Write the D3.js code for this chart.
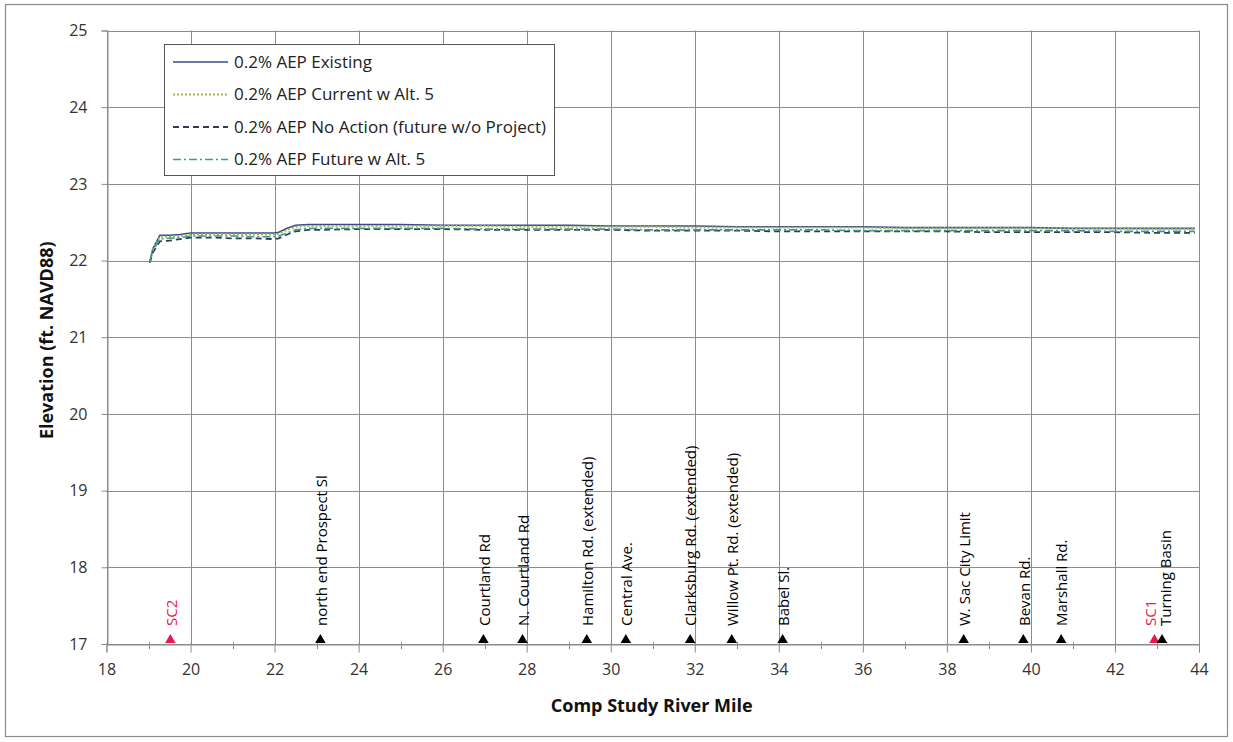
<!DOCTYPE html>
<html><head><meta charset="utf-8">
<script src="https://cdn.jsdelivr.net/npm/d3@7"></script>
<style>
html,body{margin:0;padding:0;background:#fff;}
svg{display:block;font-family:"Open Sans",Lato,sans-serif;}
</style></head>
<body>
<svg id="chart" width="1233" height="742"></svg>
<script>
// ---------- DATA ----------
const riverMile = [19.03, 19.1, 19.27, 19.5, 19.75, 20.0, 20.5, 21.0, 21.5, 22.0, 22.1, 22.3, 22.5, 22.8, 23.0, 24, 25, 26, 27, 28, 29, 30, 31, 32, 33, 34, 35, 36, 37, 38, 39, 40, 41, 42, 43, 43.9];
const existing = [21.98, 22.15, 22.33, 22.33, 22.34, 22.36, 22.36, 22.36, 22.36, 22.36, 22.37, 22.42, 22.46, 22.47, 22.47, 22.47, 22.47, 22.46, 22.46, 22.46, 22.46, 22.45, 22.45, 22.45, 22.44, 22.44, 22.44, 22.44, 22.43, 22.43, 22.43, 22.43, 22.42, 22.42, 22.42, 22.42];
const currentAlt5 = [21.99, 22.14, 22.31, 22.31, 22.32, 22.34, 22.34, 22.34, 22.34, 22.34, 22.35, 22.40, 22.44, 22.45, 22.45, 22.45, 22.45, 22.45, 22.45, 22.44, 22.44, 22.44, 22.44, 22.43, 22.43, 22.43, 22.43, 22.43, 22.42, 22.42, 22.42, 22.42, 22.42, 22.42, 22.41, 22.41];
const noAction = [21.97, 22.10, 22.25, 22.26, 22.28, 22.30, 22.30, 22.29, 22.29, 22.28, 22.29, 22.34, 22.38, 22.40, 22.40, 22.41, 22.41, 22.41, 22.40, 22.40, 22.40, 22.40, 22.39, 22.39, 22.39, 22.38, 22.38, 22.38, 22.38, 22.38, 22.37, 22.37, 22.37, 22.37, 22.36, 22.36];
const futureAlt5 = [21.98, 22.12, 22.28, 22.29, 22.30, 22.32, 22.32, 22.32, 22.31, 22.31, 22.32, 22.36, 22.40, 22.42, 22.42, 22.42, 22.42, 22.42, 22.41, 22.41, 22.41, 22.41, 22.40, 22.40, 22.40, 22.40, 22.40, 22.39, 22.39, 22.39, 22.39, 22.39, 22.39, 22.38, 22.38, 22.38];
const seriesNames = ["0.2% AEP Existing", "0.2% AEP Current w Alt. 5", "0.2% AEP No Action (future w/o Project)", "0.2% AEP Future w Alt. 5"];

const landmarkNames = ["SC2", "north end Prospect Sl", "Courtland Rd", "N. Courtland Rd", "Hamilton Rd. (extended)", "Central Ave.", "Clarksburg Rd. (extended)", "Willow Pt. Rd. (extended)", "Babel Sl.", "W. Sac City Limit", "Bevan Rd.", "Marshall Rd.", "SC1", "Turning Basin"];
const landmarkMiles = [19.52, 23.09, 26.97, 27.9, 29.43, 30.36, 31.89, 32.88, 34.09, 38.4, 39.82, 40.72, 42.94, 43.12];
const landmarkIsSC = [true, false, false, false, false, false, false, false, false, false, false, false, true, false];

const xTicks = [18, 20, 22, 24, 26, 28, 30, 32, 34, 36, 38, 40, 42, 44];
const yTicks = [17, 18, 19, 20, 21, 22, 23, 24, 25];

// ---------- LAYOUT ----------
const svg = d3.select("#chart");
const L = 106.5, R = 1199, T = 30.5, B = 644;
const x = d3.scaleLinear().domain([18, 44]).range([L, R]);
const y = d3.scaleLinear().domain([17, 25]).range([B, T]);

svg.append("rect").attr("x", 5.5).attr("y", 4.5).attr("width", 1222).attr("height", 732)
  .attr("fill", "#fff").attr("stroke", "#8a8a8a").attr("stroke-width", 1.2);

const gridColor = "#8c8c8c";
svg.append("g").selectAll("line").data(yTicks).join("line")
  .attr("x1", L).attr("x2", R).attr("y1", d => Math.round(y(d)) + 0.5).attr("y2", d => Math.round(y(d)) + 0.5)
  .attr("stroke", gridColor).attr("stroke-width", 1);
svg.append("g").selectAll("line").data(xTicks).join("line")
  .attr("x1", d => Math.round(x(d)) + 0.5).attr("x2", d => Math.round(x(d)) + 0.5).attr("y1", T).attr("y2", B)
  .attr("stroke", gridColor).attr("stroke-width", 1);

// x axis
const xAxis = d3.axisBottom(x).tickValues(xTicks).tickSize(8).tickPadding(11).tickFormat(d3.format("d"));
const gx = svg.append("g").attr("transform", `translate(0,${Math.round(B) + 0.5})`).call(xAxis);
gx.select(".domain").attr("stroke", gridColor);
gx.selectAll(".tick line").attr("stroke", gridColor).attr("y1", -2);
gx.selectAll(".tick text").attr("font-size", 16).attr("fill", "#333").attr("font-family", "Open Sans");
const minorTicks = d3.range(19, 44, 2);
svg.append("g").selectAll("line").data(minorTicks).join("line")
  .attr("x1", d => Math.round(x(d)) + 0.5).attr("x2", d => Math.round(x(d)) + 0.5)
  .attr("y1", B - 2).attr("y2", B + 5).attr("stroke", gridColor);

// y axis
const yAxis = d3.axisLeft(y).tickValues(yTicks).tickSize(6).tickPadding(14).tickFormat(d3.format("d"));
const gy = svg.append("g").attr("transform", `translate(${Math.round(L) + 0.5},0)`).call(yAxis);
gy.select(".domain").attr("stroke", gridColor);
gy.selectAll(".tick line").attr("stroke", gridColor);
gy.selectAll(".tick text").attr("font-size", 16).attr("fill", "#333").attr("font-family", "Open Sans");

// axis titles
svg.append("text").attr("x", (L + R) / 2 - 1).attr("y", 712).attr("text-anchor", "middle")
  .attr("font-weight", "bold").attr("font-size", 18).attr("fill", "#111").text("Comp Study River Mile");
svg.append("text").attr("transform", `translate(53,${(T + B) / 2 + 3}) rotate(-90)`).attr("text-anchor", "middle")
  .attr("font-weight", "bold").attr("font-size", 18).attr("fill", "#111").text("Elevation (ft. NAVD88)");

// ---------- LINES ----------
const series = [
  {name: seriesNames[0], values: existing, color: "#3c4a8c", dash: null, width: 1.6},
  {name: seriesNames[1], values: currentAlt5, color: "#9bbb59", dash: "2,2", width: 2},
  {name: seriesNames[2], values: noAction, color: "#343a52", dash: "6,4", width: 1.8},
  {name: seriesNames[3], values: futureAlt5, color: "#3f9a86", dash: "8,3,2,3", width: 1.6}
];
const line = d3.line().x((d, i) => x(riverMile[i])).y(d => y(d));
svg.append("g").selectAll("path").data(series).join("path")
  .attr("d", s => line(s.values)).attr("fill", "none")
  .attr("stroke", s => s.color).attr("stroke-width", s => s.width)
  .attr("stroke-dasharray", s => s.dash);

// ---------- LANDMARKS ----------
const lm = svg.append("g");
const tri = d3.symbol().type(d3.symbolTriangle).size(48);
const px = landmarkMiles.map(m => x(m));
landmarkNames.forEach((name, i) => {
  const cx = px[i];
  const col = landmarkIsSC[i] ? "#e8194f" : "#000";
  // nudge labels apart when two markers nearly coincide
  let off = 0;
  if (i + 1 < px.length && px[i + 1] - cx < 12) off = -5;
  if (i > 0 && cx - px[i - 1] < 12) off = 3;
  lm.append("path").attr("d", tri()).attr("transform", `translate(${cx},${B - 4})`).attr("fill", col);
  lm.append("text").attr("transform", `translate(${cx + 1 + off},${B - 18}) rotate(-90)`)
    .attr("dy", "0.35em").attr("font-size", 15).attr("fill", col).text(name);
});

// ---------- LEGEND ----------
const lg = svg.append("g");
const box = lg.append("rect").attr("x", 164.5).attr("y", 44.5).attr("height", 131)
  .attr("fill", "#fff").attr("stroke", "#555").attr("stroke-width", 1);
let maxRight = 0;
series.forEach((s, i) => {
  const yy = 62 + i * 32.5;
  lg.append("line").attr("x1", 173).attr("x2", 228).attr("y1", yy).attr("y2", yy)
    .attr("stroke", s.color).attr("stroke-width", s.width).attr("stroke-dasharray", s.dash);
  const t = lg.append("text").attr("x", 234).attr("y", yy).attr("dy", "0.35em")
    .attr("font-size", 17).attr("fill", "#222").text(s.name);
  const bb = t.node().getBBox();
  maxRight = Math.max(maxRight, bb.x + bb.width);
});
box.attr("width", Math.round(maxRight + 8 - 164.5));
</script>
</body></html>
